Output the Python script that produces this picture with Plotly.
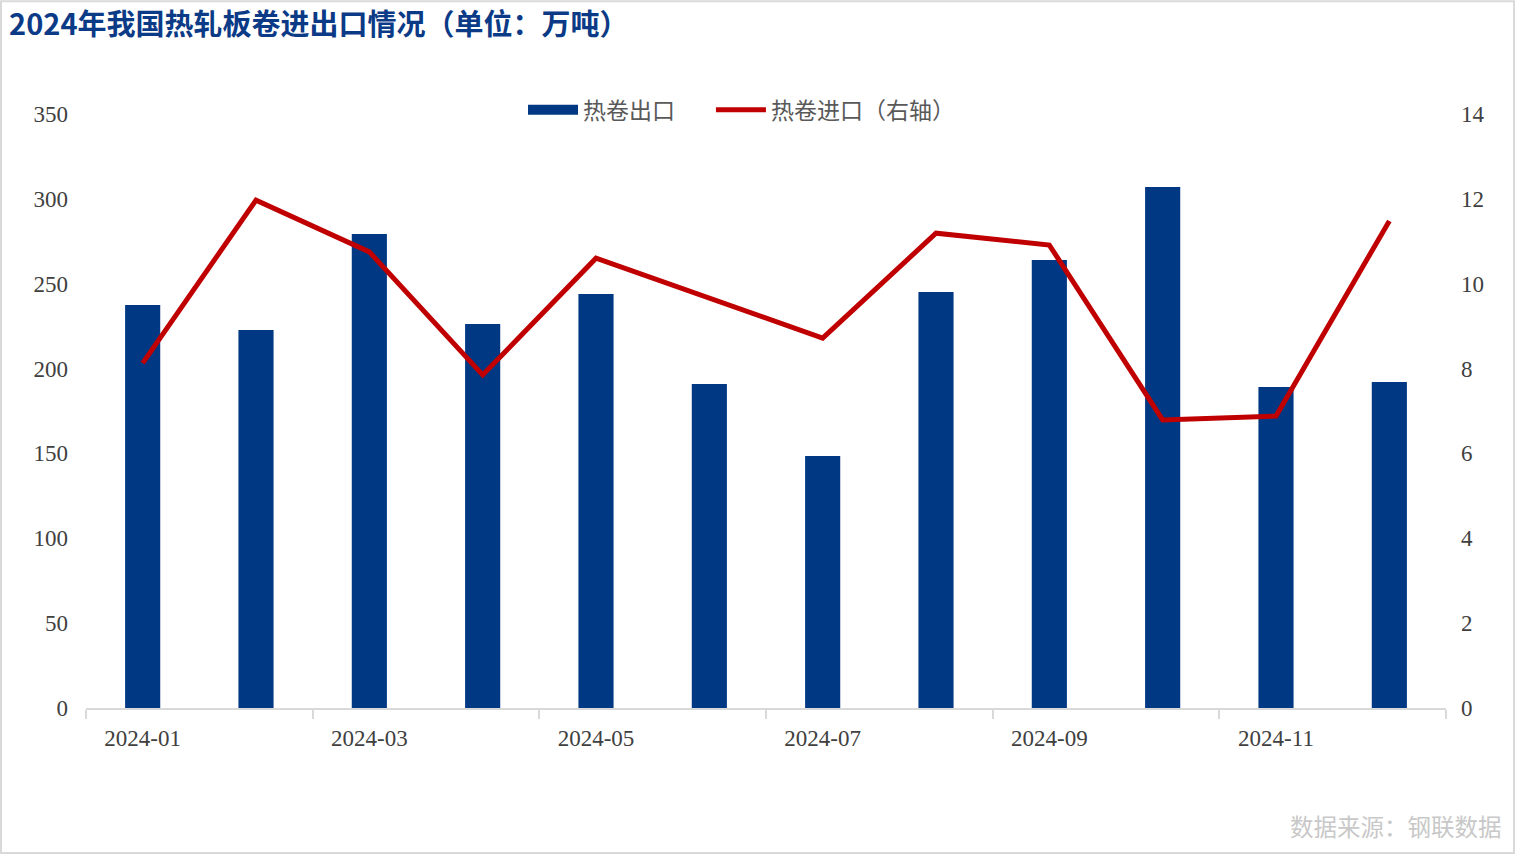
import plotly.graph_objects as go

months = ["2024-01", "2024-02", "2024-03", "2024-04", "2024-05", "2024-06",
          "2024-07", "2024-08", "2024-09", "2024-10", "2024-11", "2024-12"]
export_vals = [237.5, 222.7, 279.3, 226.3, 244.0, 190.9, 148.5, 245.1, 264.0, 307.0, 189.2, 192.1]
import_vals = [8.13, 11.97, 10.75, 7.85, 10.60, 9.66, 8.72, 11.19, 10.91, 6.79, 6.88, 11.48]

left_ticks = [0, 50, 100, 150, 200, 250, 300, 350]
right_ticks = [0, 2, 4, 6, 8, 10, 12, 14]

x_idx = list(range(len(months)))
label_idx = x_idx[::2]
label_text = [months[i] for i in label_idx]
boundary_idx = [i - 0.5 for i in x_idx[::2]] + [len(months) - 0.5]

BLUE = "#003884"
RED = "#C00000"

fig = go.Figure()
fig.add_trace(go.Bar(
    x=x_idx, y=export_vals, name="热卷出口",
    marker=dict(color=BLUE, line=dict(width=0)),
    width=0.31, yaxis="y", showlegend=False,
))
# legend proxy giving the bar series a wide rectangular swatch
fig.add_trace(go.Scatter(
    x=[None], y=[None], name="热卷出口" + "&nbsp;" * 6, mode="lines",
    line=dict(color=BLUE, width=14), yaxis="y", showlegend=True,
))
fig.add_trace(go.Scatter(
    x=x_idx, y=import_vals, name="热卷进口（右轴）",
    mode="lines", line=dict(color=RED, width=5),
    yaxis="y2",
))

serif = "Times New Roman, Liberation Serif, serif"
fig.update_layout(
    width=1516, height=855,
    paper_bgcolor="white", plot_bgcolor="white",
    margin=dict(l=86, r=70, t=114, b=147),
    title=dict(
        text="<b>2024年我国热轧板卷进出口情况（单位：万吨）</b>",
        x=0.006, xanchor="left", y=0.971, yanchor="middle",
        font=dict(family="Noto Sans CJK SC", size=29, color="#0B3A86"),
    ),
    showlegend=True,
    legend=dict(
        orientation="h", x=0.482, xanchor="center", y=1.007, yanchor="middle",
        font=dict(family="Noto Sans CJK SC", size=23, color="#595959"),
        bgcolor="rgba(0,0,0,0)", traceorder="normal",
        itemwidth=50, tracegroupgap=0,
    ),
    xaxis=dict(
        range=[-0.5, len(months) - 0.5],
        tickmode="array", tickvals=label_idx, ticktext=label_text,
        ticks="", showgrid=False, zeroline=False,
        showline=True, linecolor="#D9D9D9", linewidth=1.5,
        ticklabelstandoff=9,
        tickfont=dict(family=serif, size=23, color="#404040"),
        minor=dict(tickmode="array", tickvals=boundary_idx, ticks="outside",
                   ticklen=9, tickcolor="#D9D9D9", tickwidth=1.5, showgrid=False),
    ),
    yaxis=dict(
        range=[0, 350], tickmode="array", tickvals=left_ticks,
        showgrid=False, zeroline=False, showline=False, ticks="",
        ticklabelstandoff=17,
        tickfont=dict(family=serif, size=23, color="#404040"),
    ),
    yaxis2=dict(
        range=[0, 14], tickmode="array", tickvals=right_ticks,
        overlaying="y", side="right",
        showgrid=False, zeroline=False, showline=False, ticks="",
        ticklabelstandoff=14,
        tickfont=dict(family=serif, size=23, color="#404040"),
    ),
)

fig.add_annotation(
    text="数据来源：钢联数据", xref="paper", yref="paper",
    x=1.0425, xanchor="right", y=-0.199, yanchor="middle", showarrow=False,
    font=dict(family="Noto Sans CJK SC", size=23.5, color="#C8C8C8"),
)
fig.add_shape(
    type="rect", xref="paper", yref="paper",
    x0=-0.0625, x1=1.05, y0=-0.244, y1=1.19,
    line=dict(color="#D9D9D9", width=2), fillcolor="rgba(0,0,0,0)",
)

fig.write_html("out.html")
